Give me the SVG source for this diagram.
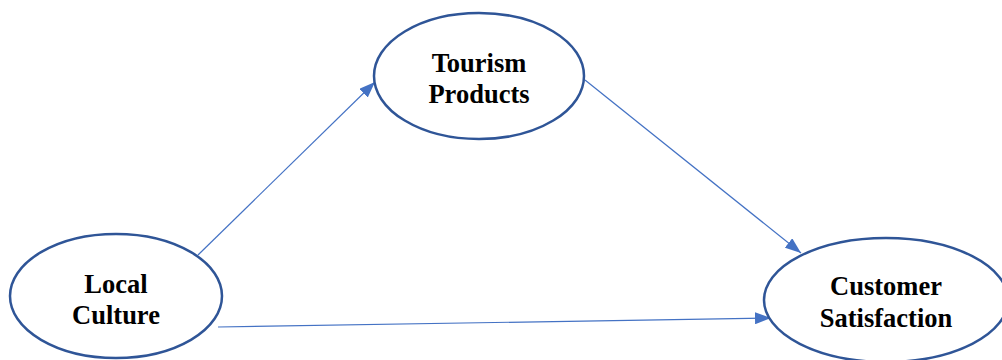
<svg xmlns="http://www.w3.org/2000/svg" width="1002" height="360" viewBox="0 0 1002 360">
  <style>
    .node ellipse { fill: #ffffff; stroke: #2f5597; stroke-width: 2.5; }
    .node text { font-family: "Liberation Serif", "Times New Roman", serif; font-weight: bold; font-size: 26.5px; fill: #000000; text-anchor: middle; }
    .edge { stroke: #4472c4; stroke-width: 1.2; fill: none; marker-end: url(#arrow); }
  </style>
  <defs>
    <marker id="arrow" viewBox="0 0 16 12" refX="16" refY="6" markerWidth="16" markerHeight="12" markerUnits="userSpaceOnUse" orient="auto">
      <path d="M0,0 L16,6 L0,12 Z" fill="#4472c4"/>
    </marker>
  </defs>
  <rect width="1002" height="360" fill="#ffffff"/>

  <g id="connectors">
    <line class="edge" x1="198" y1="255" x2="375" y2="82"/>
    <line class="edge" x1="585" y1="80" x2="801" y2="253"/>
    <line class="edge" x1="218" y1="327" x2="771" y2="318"/>
  </g>

  <g id="tourism-products" class="node">
    <ellipse cx="479" cy="76" rx="105" ry="63"/>
    <text x="479" y="72">Tourism</text>
    <text x="479" y="103">Products</text>
  </g>

  <g id="local-culture" class="node">
    <ellipse cx="116" cy="296" rx="106" ry="62"/>
    <text x="116" y="293">Local</text>
    <text x="116" y="324">Culture</text>
  </g>

  <g id="customer-satisfaction" class="node">
    <ellipse cx="886" cy="300" rx="122" ry="62"/>
    <text x="886" y="295">Customer</text>
    <text x="886" y="327">Satisfaction</text>
  </g>
</svg>
